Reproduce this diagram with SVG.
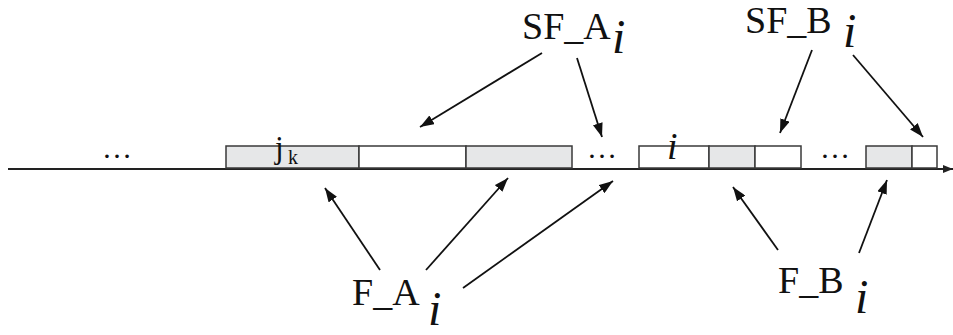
<svg xmlns="http://www.w3.org/2000/svg" width="953" height="335" viewBox="0 0 953 335">
<style>
.bg{fill:#ffffff}
.box{stroke:#3a3a3a;stroke-width:1.5}
.g{fill:#e6e7e8}
.w{fill:#ffffff}
.t{font-family:"Liberation Serif","Times New Roman",serif;fill:#111}
.lbl{font-size:38px}
.it{font-style:italic;font-size:48px}
.dots{font-size:30px}
.arr{stroke:#111;stroke-width:1.8;fill:none;marker-end:url(#ah)}
.axis{stroke:#222;stroke-width:2;fill:none;marker-end:url(#ax)}
</style>
<defs>
<marker id="ah" viewBox="0 0 14 10" refX="14" refY="5" markerWidth="14" markerHeight="10" markerUnits="userSpaceOnUse" orient="auto"><path d="M0,0 L14,5 L0,10 z" fill="#111"/></marker>
<marker id="ax" viewBox="0 0 10 8" refX="10" refY="4" markerWidth="10" markerHeight="8" markerUnits="userSpaceOnUse" orient="auto"><path d="M0,0 L10,4 L0,8 z" fill="#222"/></marker>
</defs>
<rect class="bg" x="0" y="0" width="953" height="335"/>
<g id="timeline">
<path class="axis" d="M8,169 L953,169"/>
</g>
<g id="boxes">
<g id="box1"><rect class="box g" x="226" y="146" width="133" height="22"/>
<text class="t" x="275" y="158" font-size="31">j</text><text class="t" x="288" y="164" font-size="20">k</text></g>
<g id="box2"><rect class="box w" x="359" y="146" width="107" height="22"/></g>
<g id="box3"><rect class="box g" x="466" y="146" width="106" height="22"/></g>
<g id="box4"><rect class="box w" x="639" y="146" width="70" height="22"/>
<text class="t" x="667" y="159" font-size="38" font-style="italic">i</text></g>
<g id="box5"><rect class="box g" x="709" y="146" width="46" height="22"/></g>
<g id="box6"><rect class="box w" x="755" y="146" width="46" height="22"/></g>
<g id="box7"><rect class="box g" x="866" y="146" width="46" height="22"/></g>
<g id="box8"><rect class="box w" x="912" y="146" width="25" height="22"/></g>
</g>
<g id="ellipses">
<text class="t dots" x="102" y="158">…</text>
<text class="t dots" x="587" y="158">…</text>
<text class="t dots" x="820" y="158">…</text>
</g>
<g id="SF_A"><text class="t lbl" x="522" y="39">SF_A</text><text class="t it" x="612" y="53">i</text></g>
<g id="SF_B"><text class="t lbl" x="745" y="33">SF_B</text><text class="t it" x="843" y="47">i</text></g>
<g id="F_A"><text class="t lbl" x="352" y="305">F_A</text><text class="t it" x="428" y="325">i</text></g>
<g id="F_B"><text class="t lbl" x="778" y="293">F_B</text><text class="t it" x="855" y="313">i</text></g>
<g id="connectors">
<path class="arr" d="M542,53 L420,127"/>
<path class="arr" d="M577,58 L602,137"/>
<path class="arr" d="M812,50 L780,133"/>
<path class="arr" d="M853,55 L923,137"/>
<path class="arr" d="M380,270 L325,188"/>
<path class="arr" d="M426,270 L508,178"/>
<path class="arr" d="M463,288 L613,181"/>
<path class="arr" d="M778,250 L733,187"/>
<path class="arr" d="M859,253 L887,180"/>
</g>
</svg>
